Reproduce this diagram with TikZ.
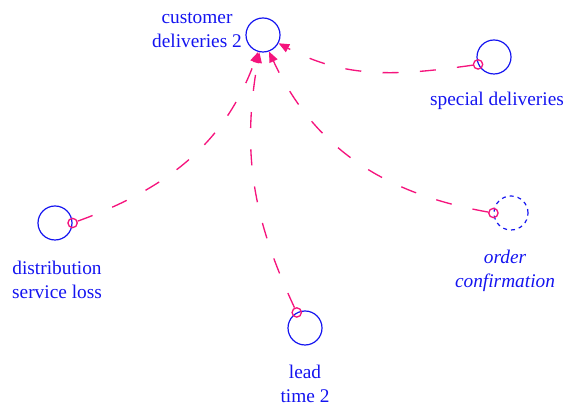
\documentclass[tikz,border=0pt]{standalone}
\usepackage{fontspec}
\setmainfont{Liberation Serif}
\usetikzlibrary{arrows.meta}

\definecolor{vblue}{RGB}{20,20,240}
\definecolor{lpink}{RGB}{245,20,125}

\tikzset{
  var/.style={circle, draw=vblue, line width=0.9pt, minimum size=25.5pt, inner sep=0pt},
  shadowvar/.style={var, dashed},
  linkdot/.style={circle, draw=lpink, line width=1pt, minimum size=7pt, inner sep=0pt},
  vlabel/.style={text=vblue, font=\fontsize{14.5}{18}\selectfont, align=center, inner sep=0pt},
  link/.style={draw=lpink, line width=1pt, dash pattern=on 12pt off 16pt,
    -{Triangle[length=8pt,width=6.5pt]}}
}

\begin{document}
\begin{tikzpicture}[x=0.75pt, y=0.75pt]
        \useasboundingbox (0,0) rectangle (566,409);

        % Variaveis
        \node[var] (cust) at (263,374) {};
        \node[var] (spec) at (494,352) {};
        \node[var] (dist) at (55,186) {};
        \node[shadowvar] (order) at (511,196) {};
        \node[var] (lead) at (305,81) {};

        % Nomes
        \node[vlabel] (custlbl) at (197,379) {customer\\deliveries 2};
        \node[vlabel] (speclbl) at (497,308) {special deliveries};
        \node[vlabel] (distlbl) at (57,129) {distribution\\service loss};
        \node[vlabel, font=\fontsize{14.5}{18}\selectfont\itshape] (orderlbl) at (505,138) {order\\confirmation};
        \node[vlabel] (leadlbl) at (305,25) {lead\\time 2};

        % Inicio das setas
        \node[linkdot] (m1) at (spec.205) {};
        \node[linkdot] (m2) at (order.west) {};
        \node[linkdot] (m3) at (lead.118) {};
        \node[linkdot] (m4) at (dist.east) {};

        % Conexoes
        \draw[link] (m1) to[out=188, in=-28] (cust.-28);
        \draw[link] (m2) to[out=170, in=-65] (cust.-70);
        \draw[link] (m3) to[out=115, in=-100] (cust.-102);
        \draw[link] (m4) to[out=20, in=-110] (cust.-106);

    \end{tikzpicture}
\end{document}
